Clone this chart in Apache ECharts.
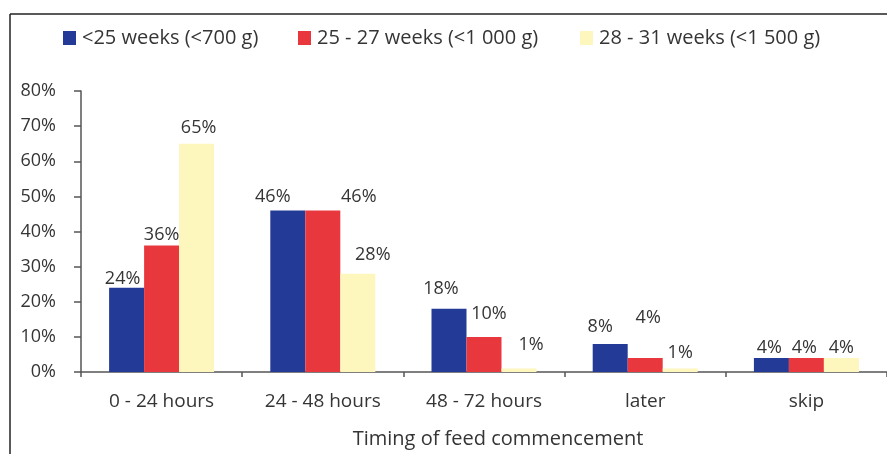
<!DOCTYPE html>
<html>
<head>
<meta charset="utf-8">
<script src="https://cdn.jsdelivr.net/npm/echarts@6/dist/echarts.min.js"></script>
<style>
html,body{margin:0;padding:0;background:#fff;overflow:hidden;}
#chart{width:887px;height:454px;}
</style>
</head>
<body>
<div id="chart"></div>
<script>
const categories = ['0 - 24 hours', '24 - 48 hours', '48 - 72 hours', 'later', 'skip'];
const seriesNames = ['<25 weeks (<700 g)', '25 - 27 weeks (<1 000 g)', '28 - 31 weeks (<1 500 g)'];
const under25 = [24, 46, 18, 8, 4];
const w25to27 = [36, 46, 10, 4, 4];
const w28to31 = [65, 28, 1, 1, 4];
const yTicks = [0, 10, 20, 30, 40, 50, 60, 70, 80];

// label nudges (layout only), per series per category
const labelOffsets = [
  [[-4, 0], [-15, -5], [-8, -11], [-10, -8], [-2, -1]],
  [[0, -2], [36, -5], [5, -14], [3, -31], [-2, -1]],
  [[2, -7], [15, -10], [12, -15], [0, -7], [0, -1]]
];
const colors = ['#233a96', '#e8383e', '#fdf6bd'];

const chart = echarts.init(document.getElementById('chart'));
const FONT = 'Open Sans';
const txt = '#353535';

function mkSeries(i, vals) {
  return {
    name: seriesNames[i],
    type: 'bar',
    barWidth: 35,
    barGap: '0%',
    itemStyle: { color: colors[i] },
    label: {
      show: true, position: 'top', distance: 0,
      formatter: '{c}%', color: txt, fontFamily: FONT, fontSize: 18
    },
    data: vals.map((v, j) => ({ value: v, label: { offset: labelOffsets[i][j] } }))
  };
}

const legendCommon = {
  top: 23, itemWidth: 13, itemHeight: 14, itemGap: 6,
  icon: 'rect',
  textStyle: { fontFamily: FONT, fontSize: 20, color: txt, padding: [0, 0, 0, 1] }
};

chart.setOption({
  animation: false,
  backgroundColor: '#fff',
  legend: [
    Object.assign({ left: 58, data: [seriesNames[0]] }, legendCommon),
    Object.assign({ left: 293, data: [seriesNames[1]] }, legendCommon),
    Object.assign({ left: 575, data: [seriesNames[2]] }, legendCommon)
  ],
  grid: { left: 81, right: -7, top: 91, bottom: 80, containLabel: false },
  xAxis: {
    type: 'category',
    data: categories,
    name: 'Timing of feed commencement',
    nameLocation: 'middle',
    nameGap: 57,
    nameTextStyle: { fontFamily: FONT, fontSize: 20, color: txt, padding: [0, 0, 0, 28] },
    axisLine: { lineStyle: { color: '#555', width: 1.5 } },
    axisTick: { show: true, length: 5, lineStyle: { color: '#555', width: 1.5 } },
    axisLabel: { fontFamily: FONT, fontSize: 19, color: txt, margin: 20 }
  },
  yAxis: {
    type: 'value',
    min: yTicks[0], max: yTicks[yTicks.length - 1], interval: yTicks[1] - yTicks[0],
    splitLine: { show: false },
    axisLine: { show: true, lineStyle: { color: '#555', width: 1.5 } },
    axisTick: { show: true, length: 7, lineStyle: { color: '#555', width: 1.5 } },
    axisLabel: { formatter: '{value}%', fontFamily: FONT, fontSize: 18, color: txt, margin: 25 }
  },
  graphic: [
    { type: 'line', shape: { x1: 10, y1: 14, x2: 887, y2: 14 }, style: { stroke: '#222', lineWidth: 1.5 } },
    { type: 'line', shape: { x1: 10, y1: 14, x2: 10, y2: 454 }, style: { stroke: '#222', lineWidth: 1.5 } }
  ],
  series: [mkSeries(0, under25), mkSeries(1, w25to27), mkSeries(2, w28to31)]
});
</script>
</body>
</html>
